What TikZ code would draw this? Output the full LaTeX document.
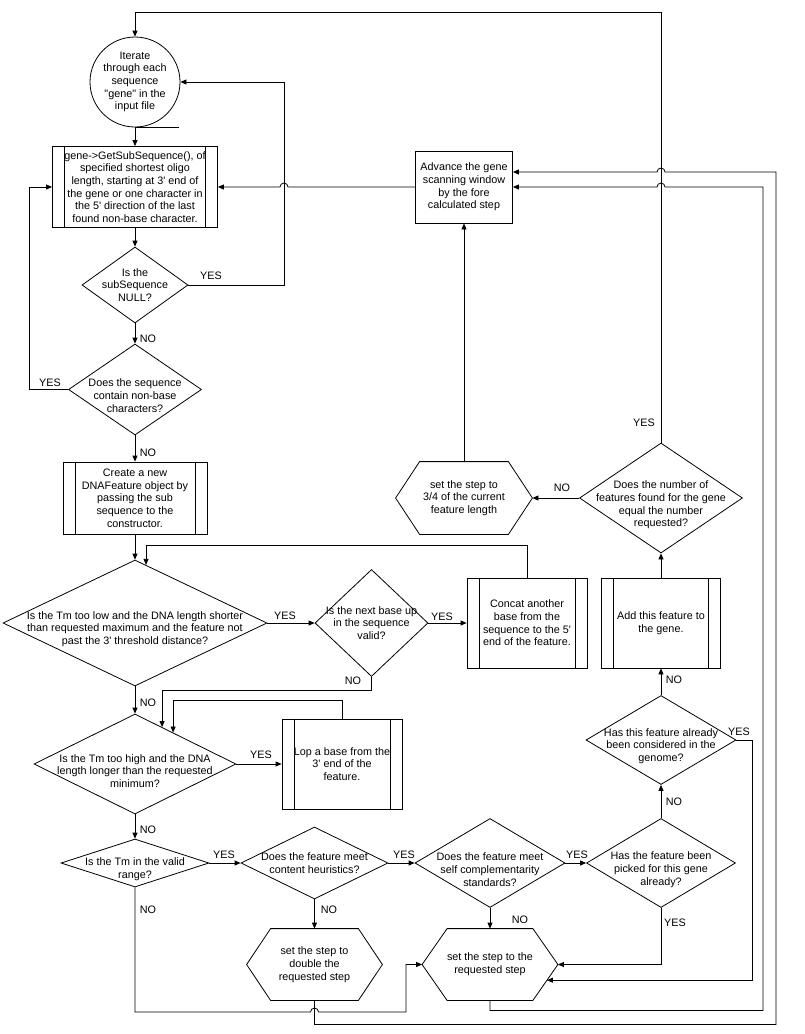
\documentclass[tikz,border=0pt]{standalone}
\usepackage{fontspec}
\setmainfont{Liberation Sans}
\usetikzlibrary{arrows.meta,shapes.geometric,calc}
\newcommand\sq{\textquotesingle}
\newcommand\dq{\textquotedbl}
\newcommand\hexdraw[2]{\draw (#1.west) -- ([xshift=#2]#1.north west) -- ([xshift=-#2]#1.north east) -- (#1.east) -- ([xshift=-#2]#1.south east) -- ([xshift=#2]#1.south west) -- cycle;}
\begin{document}
\begin{tikzpicture}[x=1pt,y=-1pt, line width=0.8pt,
  every node/.style={font=\fontsize{10.8}{12.7}\selectfont, inner sep=0pt},
  arr/.style={-{Triangle[length=6pt,width=5pt]}},
  txt/.style={align=center},
  proc/.style={draw, rectangle, align=center,
    path picture={\draw ([xshift=12pt]path picture bounding box.north west) -- ([xshift=12pt]path picture bounding box.south west);
                  \draw ([xshift=-12pt]path picture bounding box.north east) -- ([xshift=-12pt]path picture bounding box.south east);}},
  plainbox/.style={draw, rectangle, align=center},
  dia/.style={draw, diamond},
  hexn/.style={rectangle, align=center},
  lbl/.style={}]
\useasboundingbox (0,0) rectangle (805,1034);

% ---------- shapes ----------
\node[draw, circle, minimum size=90pt] (start) at (135,82) {};
\node[txt] (startt) at (start) {Iterate\\through each\\sequence\\\dq gene\dq{} in the\\input file};

\node[proc, minimum width=165pt, minimum height=81pt] (b1) at (135,187)
  {gene->GetSubSequence(), of\\specified shortest oligo\\length, starting at 3\sq{} end of\\the gene or one character in\\the 5\sq{} direction of the last\\found non-base character.};

\node[dia, minimum width=106pt, minimum height=76pt] (d1) at (135,285) {};
\node[txt] (d1t) at (d1) {Is the\\subSequence\\NULL?};

\node[dia, minimum width=133pt, minimum height=91pt] (d2) at (135,389.5) {};
\node[txt] (d2t) at ([yshift=-6pt]d2) {Does the sequence\\contain non-base\\characters?};

\node[proc, minimum width=144pt, minimum height=72pt] (b2) at (135,498)
  {Create a new\\DNAFeature object by\\passing the sub\\sequence to the\\constructor.};

\node[dia, minimum width=264pt, minimum height=126pt] (d3) at (135,623) {};
\node[txt] (d3t) at ([yshift=-6pt]d3) {Is the Tm too low and the DNA length shorter\\than requested maximum and the feature not\\past the 3\sq{} threshold distance?};

\node[dia, minimum width=113pt, minimum height=107pt] (d4) at (371.5,623) {};
\node[txt] (d4t) at (d4) {Is the next base up\\in the sequence\\valid?};

\node[proc, minimum width=120pt, minimum height=90pt] (bc) at (527,623)
  {Concat another\\base from the\\sequence to the 5\sq\\end of the feature.};

\node[proc, minimum width=119pt, minimum height=90pt] (ba) at (661,623)
  {Add this feature to\\the gene.};

\node[dia, minimum width=202pt, minimum height=100pt] (d5) at (135,764) {};
\node[txt] (d5t) at ([yshift=-7pt]d5) {Is the Tm too high and the DNA\\length longer than the requested\\minimum?};

\node[proc, minimum width=120pt, minimum height=90pt] (bl) at (342,764)
  {Lop a base from the\\3\sq{} end of the\\feature.};

\node[dia, minimum width=148pt, minimum height=48pt] (d6) at (135,863) {};
\node[txt] (d6t) at ([yshift=-6pt]d6) {Is the Tm in the valid\\range?};

\node[dia, minimum width=147pt, minimum height=72pt] (d7) at (314.5,863) {};
\node[txt] (d7t) at (d7) {Does the feature meet\\content heuristics?};

\node[dia, minimum width=150pt, minimum height=89pt] (d8) at (490,863) {};
\node[txt] (d8t) at ([yshift=-6.5pt]d8) {Does the feature meet\\self complementarity\\standards?};

\node[dia, minimum width=149pt, minimum height=89pt] (d9) at (661,863) {};
\node[txt] (d9t) at ([yshift=-6.5pt]d9) {Has the feature been\\picked for this gene\\already?};

\node[dia, minimum width=150pt, minimum height=89pt] (d10) at (661,740) {};
\node[txt] (d10t) at ([yshift=-6pt]d10) {Has this feature already\\been considered in the\\genome?};

\node[dia, minimum width=163pt, minimum height=110pt] (dn) at (661,498) {};
\node[txt] (dnt) at ([yshift=-7pt]dn) {Does the number of\\features found for the gene\\equal the number\\requested?};

\node[hexn, minimum width=136pt, minimum height=72pt] (h34) at (464,498)
  {set the step to\\3/4 of the current\\feature length};
\hexdraw{h34}{24pt}

\node[plainbox, minimum width=97pt, minimum height=72pt] (adv) at (464,187)
  {Advance the gene\\scanning window\\by the fore\\calculated step};

\node[hexn, minimum width=135pt, minimum height=71pt] (hd) at (314.5,964.5)
  {set the step to\\double the\\requested step};
\hexdraw{hd}{24pt}

\node[hexn, minimum width=135pt, minimum height=71pt] (hr) at (490,964.5)
  {set the step to the\\requested step};
\hexdraw{hr}{25pt}

% ---------- connectors ----------
\draw (start.south) -- ++(44,0);
\draw[arr] (start.south) -- (b1.north);
\draw[arr] (b1.south) -- (d1.north);
\draw[arr] (d1.east) -- ++(96,0) |- (start.east);
\draw[arr] (d1.south) -- (d2.north);
\draw[arr] (d2.west) -- ++(-39,0) |- (b1.west);
\draw[arr] (d2.south) -- (b2.north);
\draw[arr] (b2.south) -- (d3.north);
\draw[arr] (d3.east) -- (d4.west);
\draw[arr] (d4.east) -- (bc.west);
\draw[arr] (bc.north) -- ++(0,-32) -| ($(d3.north)!0.0833!(d3.east)$);
\draw[arr] (d4.south) -- ++(0,13) -| ($(d5.north)!0.267!(d5.east)$);
\draw[arr] (d3.south) -- (d5.north);
\draw[arr] (d5.east) -- (bl.west);
\draw[arr] (bl.north) -- ++(0,-18) -| ($(d5.north)!0.376!(d5.east)$);
\draw[arr] (d5.south) -- (d6.north);
\draw[arr] (d6.east) -- (d7.west);
\draw[arr] (d7.east) -- (d8.west);
\draw[arr] (d8.east) -- (d9.west);
\draw[arr] (d7.south) -- (hd.north);
\draw[arr] (d8.south) -- (hr.north);
\draw[arr] (d9.north) -- (d10.south);
\draw[arr] (d10.north) -- (ba.south);
\draw[arr] (ba.north) -- (dn.south);
\draw[arr] (dn.west) -- (h34.east);
\draw[arr] (h34.north) -- (adv.south);
\draw[arr] (dn.north) -- ++(0,-430) -| (start.north);
\draw[arr] (adv.west) -- (288,187) arc[start angle=0,end angle=180,radius=4pt] -- (b1.east);
\draw[arr] (d10.east) -- ++(16,0) |- ($(hr.east)!0.437!([xshift=-25pt]hr.south east)$);
\draw[arr] (d9.south) |- (hr.east);
\draw[arr] (d6.south) |- (310.5,1012) arc[start angle=180,end angle=0,radius=4pt] -- (406,1012) |- (hr.west);
\draw[arr] (hd.south) -- ++(0,24) -| (776,172) -- (665,172) arc[start angle=0,end angle=180,radius=4pt] -- ([yshift=15pt]adv.east);
\draw[arr] (hr.south) -- ++(0,10) -| (763,187) -- (665,187) arc[start angle=0,end angle=180,radius=4pt] -- (adv.east);

% ---------- labels ----------
\node[lbl] (l1) at (644,423) {YES};
\node[lbl] (l2) at (211,276) {YES};
\node[lbl] (l3) at (148,339) {NO};
\node[lbl] (l4) at (50,383) {YES};
\node[lbl] (l5) at (148,453) {NO};
\node[lbl] (l6) at (562,488) {NO};
\node[lbl] (l7) at (285,616) {YES};
\node[lbl] (l8) at (442,617) {YES};
\node[lbl] (l9) at (353,681) {NO};
\node[lbl] (l10) at (148,703) {NO};
\node[lbl] (l11) at (674,680) {NO};
\node[lbl] (l12) at (261,755) {YES};
\node[lbl] (l13) at (148,830) {NO};
\node[lbl] (l14) at (224,855) {YES};
\node[lbl] (l15) at (404,855) {YES};
\node[lbl] (l16) at (577,855) {YES};
\node[lbl] (l17) at (739,732) {YES};
\node[lbl] (l18) at (674,802) {NO};
\node[lbl] (l19) at (148,910) {NO};
\node[lbl] (l20) at (329,910) {NO};
\node[lbl] (l21) at (520,920) {NO};
\node[lbl] (l22) at (675,923) {YES};
\end{tikzpicture}
\end{document}
